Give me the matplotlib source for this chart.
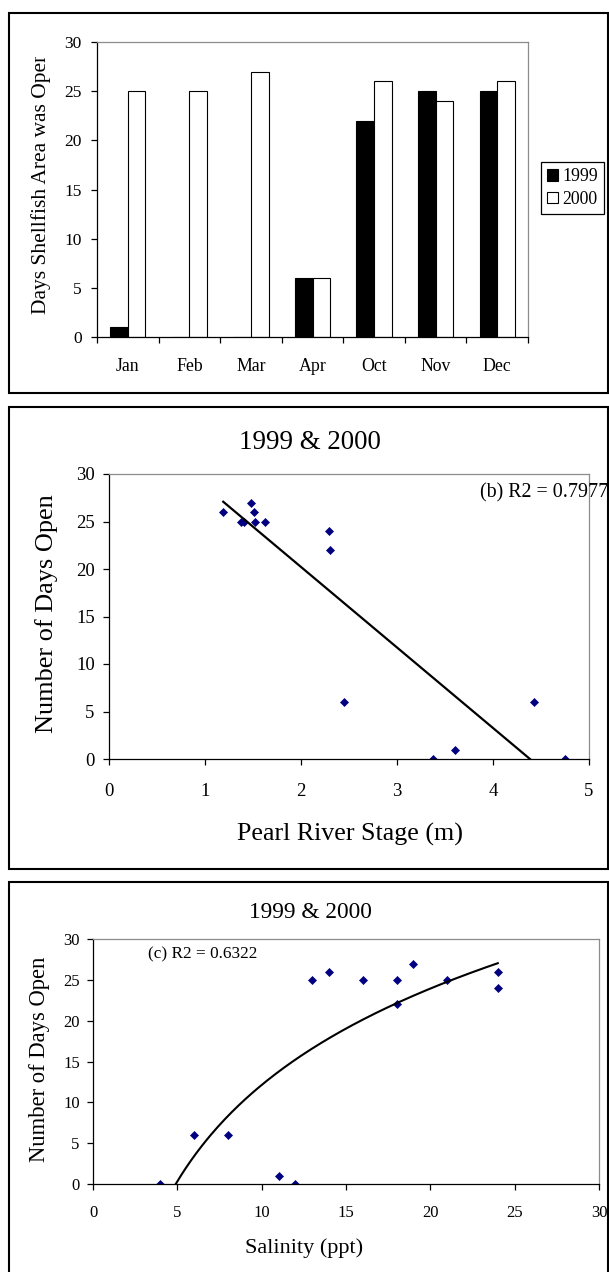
import matplotlib
matplotlib.use('Agg')
import matplotlib.pyplot as plt
import numpy as np
from matplotlib.patches import Rectangle
from matplotlib.transforms import Bbox, TransformedBbox

plt.rcParams['font.family'] = ['Liberation Serif', 'DejaVu Serif']

# (a) days open per month
months = ['Jan', 'Feb', 'Mar', 'Apr', 'Oct', 'Nov', 'Dec']
open_1999 = [1, 0, 0, 6, 22, 25, 25]
open_2000 = [25, 25, 27, 6, 26, 24, 26]

# (b) river stage vs days open
stage = [1.19, 1.37, 1.41, 1.48, 1.51, 1.52, 1.63, 2.29, 2.30, 2.45, 3.38, 3.60, 4.43, 4.75]
stage_days = [26, 25, 25, 27, 26, 25, 25, 24, 22, 6, 0, 1, 6, 0]

# (c) salinity vs days open
salinity = [4, 6, 8, 11, 12, 13, 14, 16, 18, 18, 19, 21, 24, 24]
salinity_days = [0, 6, 6, 1, 0, 25, 26, 25, 25, 22, 27, 25, 26, 24]

W, H = 609, 1272
fig = plt.figure(figsize=(W / 100, H / 100), dpi=100)


def fx(x):
    return x / W


def fy(y):
    return 1 - y / H


def px_axes(left, top, right, bottom):
    return fig.add_axes([fx(left), fy(bottom), (right - left) / W, (bottom - top) / H])


def style_axes(ax, size, xpad, ypad):
    for side in ['top', 'right']:
        ax.spines[side].set_color('#8c8c8c')
    for s in ax.spines.values():
        s.set_linewidth(0.9)
    ax.tick_params(direction='out', length=4.5, width=0.9, labelsize=size)
    ax.tick_params(axis='x', pad=xpad)
    ax.tick_params(axis='y', pad=ypad)


# frames around the three panels
for top, bottom in [(13, 393), (407, 869), (882, 1300)]:
    fig.add_artist(Rectangle((fx(9), fy(bottom)), fx(608) - fx(9), fy(top) - fy(bottom),
                             transform=fig.transFigure, fill=False, lw=1.5, ec='black'))

# ---- panel 1: bars
ax1 = px_axes(97, 42, 528, 337)
x = np.arange(len(months))
w = 1 / 3.5
b1 = ax1.bar(x - w / 2, open_1999, w, color='black', edgecolor='black', lw=0.8, label='1999')
b2 = ax1.bar(x + w / 2, open_2000, w, color='white', edgecolor='black', lw=0.8, label='2000')
ax1.set_xlim(-0.5, len(months) - 0.5)
ax1.set_ylim(0, 30)
ax1.set_yticks(range(0, 31, 5))
ax1.set_xticks(np.arange(-0.5, len(months), 1))
ax1.set_xticklabels([])
ax1.set_xticks(x, minor=True)
ax1.set_xticklabels(months, minor=True)
style_axes(ax1, 12.5, 0, 6.5)
ax1.tick_params(axis='x', which='minor', length=0, pad=15, labelsize=12.8)

leg = fig.legend(handles=[b1, b2], loc='upper left', bbox_to_anchor=(fx(541), fy(162)),
                 fancybox=False, edgecolor='black', framealpha=1, fontsize=12.8,
                 handlelength=0.6, handleheight=0.6, handletextpad=0.25,
                 borderpad=0.35, labelspacing=0.3, borderaxespad=0)
leg.get_frame().set_linewidth(0.9)

# y label is cut at the top in the original
yl = fig.text(fx(41.5), fy(183), 'Days Shellfish Area was Open', rotation=90,
              ha='center', va='center', fontsize=15.5)
yl.set_clip_box(TransformedBbox(Bbox([[0, 0], [1, fy(57)]]), fig.transFigure))
yl.set_clip_on(True)

# ---- panel 2: river stage
ax2 = px_axes(109, 474, 589, 759)
ax2.plot(stage, stage_days, 'D', color='#000080', ms=4.2, mew=0.5)
fit = np.polyfit(stage, stage_days, 1)
xs = np.array([min(stage), max(stage)])
ax2.plot(xs, np.polyval(fit, xs), color='black', lw=1.6)
ax2.set_xlim(0, 5)
ax2.set_ylim(0, 30)
ax2.set_xticks(range(0, 6))
ax2.set_yticks(range(0, 31, 5))
style_axes(ax2, 13.5, 13, 5.8)
fig.text(fx(310), fy(449), '1999 & 2000', ha='center', va='baseline', fontsize=19.4)
fig.text(fx(350), fy(841), 'Pearl River Stage (m)', ha='center', va='baseline', fontsize=18.7)
fig.text(fx(47), fy(614), 'Number of Days Open', rotation=90, ha='center', va='center',
         fontsize=18.9)
fig.text(fx(480), fy(497), '(b) R2 = 0.7977', ha='left', va='baseline', fontsize=14.4)

# ---- panel 3: salinity
ax3 = px_axes(93, 939, 599, 1184)
ax3.plot(salinity, salinity_days, 'D', color='#000080', ms=3.8, mew=0.5)
lfit = np.polyfit(np.log(salinity), salinity_days, 1)
xs = np.linspace(min(salinity), max(salinity), 200)
ax3.plot(xs, np.polyval(lfit, np.log(xs)), color='black', lw=1.5)
ax3.set_xlim(0, 30)
ax3.set_ylim(0, 30)
ax3.set_xticks(range(0, 31, 5))
ax3.set_yticks(range(0, 31, 5))
style_axes(ax3, 12, 10.5, 5)
fig.text(fx(310), fy(918), '1999 & 2000', ha='center', va='baseline', fontsize=16.8)
fig.text(fx(304), fy(1253), 'Salinity (ppt)', ha='center', va='baseline', fontsize=16)
fig.text(fx(39.5), fy(1059), 'Number of Days Open', rotation=90, ha='center', va='center',
         fontsize=16.3)
fig.text(fx(148), fy(958), '(c) R2 = 0.6322', ha='left', va='baseline', fontsize=12.4)

fig.savefig('out.png', dpi=100)
